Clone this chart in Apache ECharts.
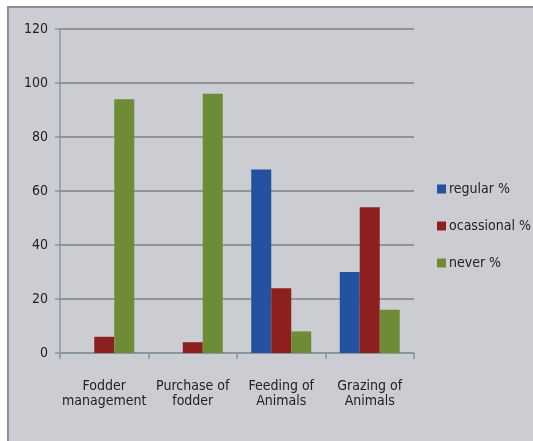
<!DOCTYPE html>
<html>
<head>
<meta charset="utf-8">
<script src="https://cdn.jsdelivr.net/npm/echarts@6/dist/echarts.min.js"></script>
<style>
  html, body { margin: 0; padding: 0; background: #ffffff; overflow: hidden; width: 533px; height: 441px; }
  #frame {
    position: absolute; left: 7px; top: 6px; width: 524px; height: 433px;
    border-left: 2px solid #8d8f94; border-top: 2px solid #8d8f94;
    background: #cbcdd2;
  }
  #chart { position: absolute; left: 0; top: 0; width: 533px; height: 441px; }
</style>
</head>
<body>
<div id="frame"></div>
<div id="chart"></div>
<script>
// Categories, series values and axis ticks
const categories = ['Fodder\nmanagement', 'Purchase of\nfodder', 'Feeding of\nAnimals', 'Grazing of\nAnimals'];
const regular = [0, 0, 68, 30];
const occasional = [6, 4, 24, 54];
const never = [94, 96, 8, 16];
const yTicks = [0, 20, 40, 60, 80, 100, 120];

const font = "'DejaVu Sans Condensed', Lato, sans-serif";

const chart = echarts.init(document.getElementById('chart'));
chart.setOption({
  backgroundColor: 'transparent',
  animation: false,
  grid: { left: 60, right: 119, top: 29, bottom: 88 },
  legend: {
    orient: 'vertical',
    left: 437,
    top: 182,
    padding: 0,
    itemWidth: 9,
    itemHeight: 9,
    itemGap: 23,
    icon: 'rect',
    textStyle: { fontFamily: font, fontSize: 14, color: '#222', padding: [0, 0, 0, -2] },
    data: ['regular %', 'ocassional %', 'never %']
  },
  xAxis: {
    type: 'category',
    data: categories,
    axisLine: { lineStyle: { color: '#8796a0', width: 1.5 } },
    axisTick: { show: true, length: 6, lineStyle: { color: '#8796a0', width: 1.5 } },
    axisLabel: { interval: 0, fontFamily: font, fontSize: 14, color: '#222', margin: 26, lineHeight: 15 }
  },
  yAxis: {
    type: 'value',
    min: yTicks[0],
    max: yTicks[yTicks.length - 1],
    interval: 20,
    axisLine: { show: true, lineStyle: { color: '#8796a0', width: 1.5 } },
    axisTick: { show: true, length: 5, lineStyle: { color: '#8796a0', width: 1.5 } },
    axisLabel: { fontFamily: font, fontSize: 14, color: '#222', margin: 12 },
    splitLine: { lineStyle: { color: '#7e8186', width: 1.5 } }
  },
  series: [
    { name: 'regular %', type: 'bar', data: regular, barWidth: 20, barGap: '0%', itemStyle: { color: '#2452a0' } },
    { name: 'ocassional %', type: 'bar', data: occasional, barWidth: 20, barGap: '0%', itemStyle: { color: '#8e1f1f' } },
    { name: 'never %', type: 'bar', data: never, barWidth: 20, barGap: '0%', itemStyle: { color: '#6e8c36' } }
  ]
});
</script>
</body>
</html>
